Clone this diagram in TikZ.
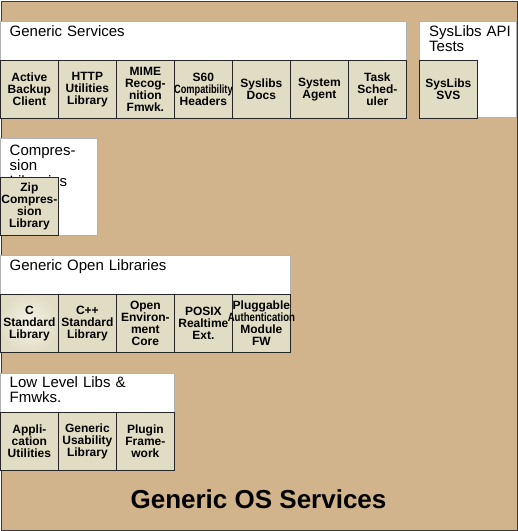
\documentclass[tikz,border=0pt]{standalone}
\usepackage{fontspec}
\setmainfont{Liberation Sans}
\usepackage{graphicx}
\definecolor{ostan}{HTML}{D2B48C}
\definecolor{compfill}{HTML}{E1DDC5}
\definecolor{compglow}{HTML}{F5F3EA}
\definecolor{osborder}{HTML}{3A3A3A}
\newcommand{\squeezeword}[2]{\makebox[50pt][c]{\scalebox{#1}[1]{#2}}}
\begin{document}
\begin{tikzpicture}[x=1pt,y=-1pt,
  comp/.style={draw=black!85, line width=0.8pt, fill=compfill, minimum width=58pt,
    minimum height=57.5pt, inner sep=0pt, align=center,
    font=\fontsize{12}{12}\selectfont\bfseries, anchor=north west},
  groupbox/.style={draw=black!30, line width=0.6pt, fill=white, inner sep=0pt, anchor=north west},
  grouptitle/.style={font=\fontsize{15}{15.5}\selectfont, align=left, anchor=base west,
    inner sep=0pt, text width=300pt},
  ostitle/.style={font=\fontsize{26}{26}\selectfont\bfseries, anchor=base, inner sep=0pt}
]
\useasboundingbox (0,0) rectangle (518,531);
% outer layer
\node[draw=osborder, line width=1.5pt, fill=ostan, inner sep=0pt, anchor=north west,
  minimum width=516pt, minimum height=529pt] (os) at (0.75,0.75) {};
\node[ostitle] (ostext) at (258.5,508) {Generic OS Services};

% group boxes
\node[groupbox, minimum width=406pt, minimum height=96.5pt] (gs) at (0,20.5) {};
\node[groupbox, minimum width=97pt, minimum height=96.5pt] (sl) at (419,20.5) {};
\node[groupbox, minimum width=97pt, minimum height=97pt] (cl) at (0,138) {};
\node[groupbox, minimum width=290pt, minimum height=97pt] (gol) at (0,255) {};
\node[groupbox, minimum width=174pt, minimum height=96pt] (ll) at (0,373) {};

% group titles
\node[grouptitle] (gst) at (9.5,36) {Generic Services};
\node[grouptitle, text width=90pt] (slt) at (429,36) {SysLibs API\\Tests};
\node[grouptitle, text width=85pt] (clt) at (9.5,155) {Compres-\\sion\\Libraries};
\node[grouptitle] (golt) at (9.5,270) {Generic Open Libraries};
\node[grouptitle] (llt) at (9.5,387) {Low Level Libs \&\\Fmwks.};

% Generic Services components
\node[comp] (abc) at (0,60) {Active\\Backup\\Client};
\node[comp] (http) at (58,60) {HTTP\\Utilities\\Library};
\node[comp] (mime) at (116,60) {MIME\\Recog-\\nition\\Fmwk.};
\node[comp] (s60) at (174,60) {S60\\\squeezeword{0.77}{Compatibility}\\Headers};
\node[comp] (docs) at (232,60) {Syslibs\\Docs};
\node[comp] (agent) at (290,60) {System\\Agent};
\node[comp] (task) at (348,60) {Task\\Sched-\\uler};
% SysLibs API Tests
\node[comp] (svs) at (419,60) {SysLibs\\SVS};
% Compression
\node[comp, minimum height=58pt] (zip) at (0,177) {Zip\\Compres-\\sion\\Library};
% Generic Open Libraries
\node[comp, minimum height=58pt, shading=radial, inner color=compglow, outer color=compfill] (csl) at (0,294) {C\\Standard\\Library};
\node[comp, minimum height=58pt] (cpp) at (58,294) {C++\\Standard\\Library};
\node[comp, minimum height=58pt] (oec) at (116,294) {Open\\Environ-\\ment\\Core};
\node[comp, minimum height=58pt] (posix) at (174,294) {POSIX\\Realtime\\Ext.};
\node[comp, minimum height=58pt] (pam) at (232,294) {\squeezeword{1}{Pluggable}\\\squeezeword{0.8}{Authentication}\\Module\\FW};
% Low Level Libs
\node[comp] (apu) at (0,412) {Appli-\\cation\\Utilities};
\node[comp] (gul) at (58,412) {Generic\\Usability\\Library};
\node[comp] (plug) at (116,412) {Plugin\\Frame-\\work};
\end{tikzpicture}
\end{document}
